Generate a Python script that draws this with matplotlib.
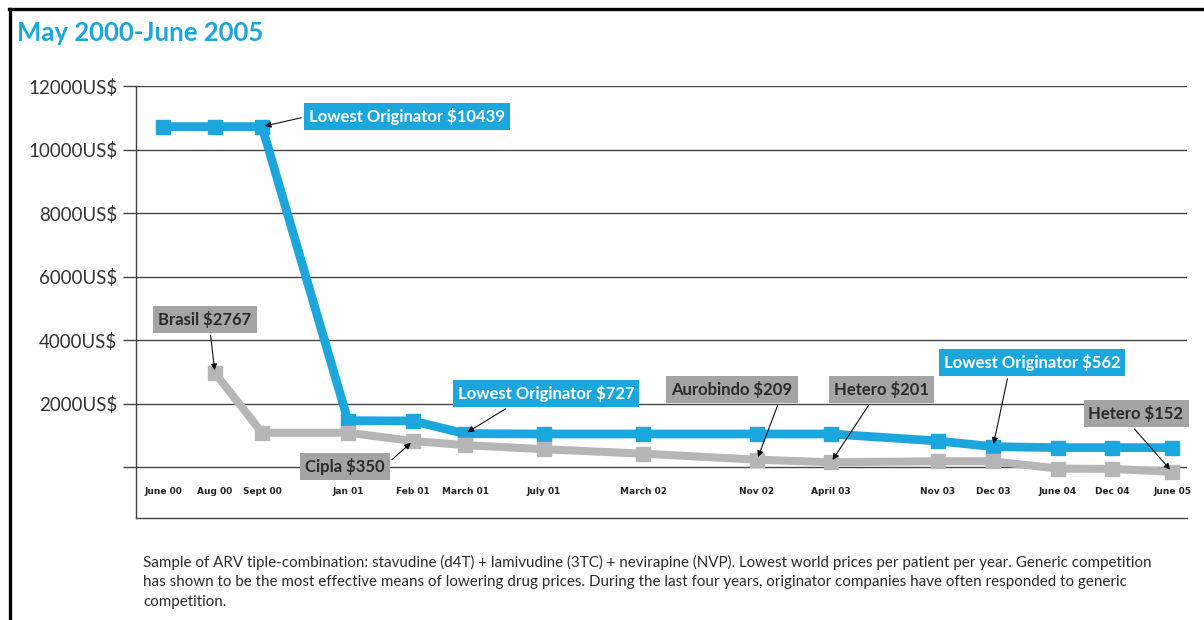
import matplotlib
matplotlib.use("Agg")
import matplotlib.pyplot as plt
from matplotlib.lines import Line2D
import numpy as np

# ---- data ----
categories = ["June 00", "Aug 00", "Sept 00", "Jan 01", "Feb 01", "March 01", "July 01",
              "March 02", "Nov 02", "April 03", "Nov 03", "Dec 03", "June 04", "Dec 04", "June 05"]
# uneven spacing of the categories along the time axis (as drawn in the original)
x_pos = [27, 79, 126, 212, 277, 329, 408, 507, 621, 695, 802, 857, 922, 976, 1036]
originator = [10720, 10720, 10720, 1460, 1450, 1050, 1040, 1040, 1040, 1040, 820, 640, 610, 610, 610]
generic = [np.nan, 2960, 1080, 1080, 820, 690, 560, 420, 230, 150, 180, 180, -50, -60, -150]
ytick_vals = [0, 2000, 4000, 6000, 8000, 10000, 12000]
ytick_labels = ["", "2000US$", "4000US$", "6000US$", "8000US$", "10000US$", "12000US$"]

# annotations: (text, point index, box centre x, box centre y, relpos)
blue_notes = [
    ("Lowest Originator $10439", 2, 271, 11055, (0.0, 0.5)),
    ("Lowest Originator $727", 5, 410, 2300, (0.33, 0.0)),
    ("Lowest Originator $562", 11, 896, 3291, (0.37, 0.0)),
]
gray_notes = [
    ("Brasil $2767", 1, 69, 4661, (0.55, 0.0)),
    ("Cipla $350", 4, 209, 31, (1.0, 0.5)),
    ("Aurobindo $209", 8, 596, 2441, (0.9, 0.0)),
    ("Hetero $201", 9, 745, 2441, (0.42, 0.0)),
    ("Hetero $152", 14, 1000, 1685, (0.42, 0.0)),
]

title = "May 2000-June 2005"
footnote = [
    "Sample of ARV tiple-combination: stavudine (d4T) + lamivudine (3TC) + nevirapine (NVP). Lowest world prices per patient per year. Generic competition",
    "has shown to be the most effective means of lowering drug prices. During the last four years, originator companies have often responded to generic",
    "competition.",
]

BLUE = "#1BA6DD"
GRAYBOX = "#A4A4A4"
GRAYLINE = "#B6B6B6"
DARK = "#333333"

plt.rcParams['font.family'] = ['Lato', 'DejaVu Sans']

fig = plt.figure(figsize=(12.04, 6.2), dpi=100)
ax = fig.add_axes([136/1204, 1-518/620, (1187-136)/1204, (518-86)/620])

ax.plot(x_pos, originator, color=BLUE, lw=6.3, marker="s", ms=10.5, solid_joinstyle="miter", zorder=3)
ax.plot(x_pos, generic, color=GRAYLINE, lw=5.8, marker="s", ms=10.5, solid_joinstyle="miter", zorder=4)

ax.set_xlim(0, 1051)
ax.set_ylim(-1606, 12000)
ax.set_yticks(ytick_vals)
ax.set_yticklabels(ytick_labels, fontsize=13.5, color=DARK)
ax.tick_params(axis="y", length=9.4, width=1, color="#444444", pad=4)
ax.set_xticks(x_pos)
ax.set_xticklabels(categories, fontsize=6.5, fontweight="bold", color="#222222",
                   family=["Liberation Sans Narrow", "DejaVu Sans"])
ax.tick_params(axis="x", length=0, pad=-22)
ax.yaxis.grid(True, color="#444444", lw=1)
ax.set_axisbelow(True)
for s in ["top", "right"]:
    ax.spines[s].set_visible(False)
for s in ["left", "bottom"]:
    ax.spines[s].set_color("#444444")
    ax.spines[s].set_linewidth(1)

def note(text, series, i, bx, by, relpos, fc, tc):
    ax.annotate(text, xy=(x_pos[i], series[i]), xytext=(bx, by), textcoords="data",
                ha="center", va="center", fontsize=12, fontweight="bold", color=tc,
                bbox=dict(boxstyle="square,pad=0.3", fc=fc, ec="none"),
                arrowprops=dict(arrowstyle="-|>", color="#111111", lw=0.8,
                                mutation_scale=9, relpos=relpos, shrinkB=2),
                zorder=6, annotation_clip=False)

for t, i, bx, by, rp in blue_notes:
    note(t, originator, i, bx, by, rp, BLUE, "white")
for t, i, bx, by, rp in gray_notes:
    note(t, generic, i, bx, by, rp, GRAYBOX, "#2a2a2a")

fig.text(17/1204, 1-33/620, title, fontsize=18.5, fontweight="bold", color=BLUE, va="center", ha="left")

for k, line in enumerate(footnote):
    fig.text(143/1204, 1-(562+20*k)/620, line, fontsize=10.9, color="#2a2a2a", va="center", ha="left")

# page frame (top and left rule)
fig.add_artist(Line2D([9/1204, 1], [1-9/620, 1-9/620], color="black", lw=2.4, transform=fig.transFigure))
fig.add_artist(Line2D([10/1204, 10/1204], [0, 1-9/620], color="black", lw=2.4, transform=fig.transFigure))

fig.savefig("out.png", dpi=100)
